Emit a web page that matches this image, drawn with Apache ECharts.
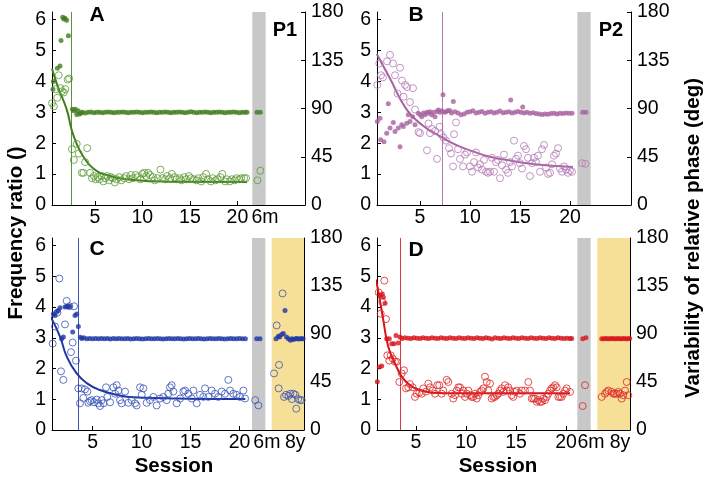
<!DOCTYPE html>
<html>
<head>
<meta charset="utf-8">
<script src="https://cdn.jsdelivr.net/npm/echarts@6.0.0/dist/echarts.min.js"></script>
<style>
  html, body { margin: 0; padding: 0; background: #fff; }
  #chart { width: 708px; height: 478px; }
</style>
</head>
<body>
<div id="chart"></div>
<script>
// ---- data: [session, frequency ratio] (filled), [session, deg] (open / fit) ----
const freqA = [[0.6,3.75],[0.64,4.0],[1.06,4.43],[1.34,4.5],[1.45,5.33],[1.63,6.08],[1.75,6.02],[1.87,6.05],[2.04,5.98],[2.22,5.48],
  [2.65,3.1],[2.8,3.05],[2.95,3.1],[3.1,2.93],[3.25,3.05],[3.4,2.95],[3.55,2.98],[3.7,3.0],[4.0,2.98],[4.3,3.0],[4.6,3.01],[4.9,2.99],
  [5.2,3.0],[5.5,3.0],[5.8,2.99],[6.1,3.0],[6.4,3.01],[6.7,3.0],[7.0,2.99],[7.3,3.0],[7.6,3.0],[7.9,3.01],[8.2,3.0],[8.5,2.99],[8.8,3.0],
  [9.1,3.0],[9.4,3.01],[9.7,3.0],[10.0,2.99],[10.3,3.0],[10.6,3.0],[10.9,3.01],[11.2,3.0],[11.5,2.99],[11.8,3.0],[12.1,3.0],[12.4,3.01],
  [12.7,3.0],[13.0,2.99],[13.3,3.0],[13.6,3.0],[13.9,3.01],[14.2,3.0],[14.5,2.99],[14.8,3.0],[15.1,3.02],[15.4,3.0],[15.7,2.99],[16.0,3.0],
  [16.3,3.0],[16.6,3.01],[16.9,3.0],[17.2,2.99],[17.5,3.0],[17.8,3.0],[18.1,3.01],[18.4,3.0],[18.7,2.99],[19.0,3.0],[19.3,3.0],[19.6,3.01],
  [19.9,3.0],[20.2,2.99],[20.5,3.0],[20.8,3.0],[21.0,3.0]];
const varA = [[0.5,95],[0.7,92],[0.85,108],[1.05,100],[1.2,121],[1.4,109],[1.55,106],[1.75,105],[1.9,108],[2.15,117],[2.3,118],
  [2.6,52],[2.8,42],[3.1,57],[3.3,48],[3.63,30],[3.8,30],[3.98,40],[4.2,53],
  [4.5,30],[4.7,25],[4.9,27],[5.1,24],[5.3,26],[5.5,24],[5.7,27],[5.9,22],[6.1,25],[6.3,27],[6.5,23],[6.7,26],[6.9,25],[7.1,21],[7.3,24],
  [7.6,26],[7.8,23],[8.1,25],[8.3,27],[8.6,24],[8.8,28],[9.0,25],[9.3,28],[9.5,26],[9.8,24],[10.0,29],[10.2,30],[10.4,27],[10.6,30],
  [10.8,28],[11.1,26],[11.3,23],[11.6,25],[11.9,33],[12.1,25],[12.4,24],[12.6,27],[12.9,25],[13.1,29],[13.4,26],[13.6,24],[13.9,25],
  [14.1,23],[14.4,26],[14.6,24],[14.9,27],[15.1,25],[15.4,24],[15.7,23],[15.9,25],[16.2,22],[16.4,26],[16.7,29],[16.9,24],[17.2,22],
  [17.4,25],[17.7,23],[17.9,24],[18.2,26],[18.4,29],[18.7,22],[18.9,24],[19.2,22],[19.4,24],[19.7,23],[19.9,25],[20.2,24],[20.4,25],
  [20.7,25],[20.9,25]];
const fitA = [[0.5,127],[1.17,109],[2.05,89],[2.57,70],[3.1,57],[3.8,45],[4.85,34],[6.26,28],[9.1,23.3],[12.6,21.8],[21,21.5]];
const freqLaterA = [[22.05,3.0],[22.4,3.0]];
const varLaterA = [[22.1,23],[22.4,32]];

const freqB = [[0.73,2.7],[1.0,2.81],[1.07,2.11],[1.4,2.05],[1.67,2.32],[1.83,3.28],[2.0,2.49],[2.33,2.67],[2.5,2.38],[2.83,2.49],
  [3.0,1.89],[3.17,2.6],[3.33,2.54],[3.67,2.65],[3.83,2.92],[4.0,2.7],[4.27,2.86],[4.5,2.6],[4.83,2.97],[5.0,2.93],[5.17,2.86],[5.35,2.98],
  [5.5,2.92],[5.7,3.0],[5.83,2.97],[6.0,3.02],[6.17,2.92],[6.35,3.0],[6.5,2.86],[6.7,3.03],[6.83,3.08],[7.0,3.0],[7.17,3.05],[7.3,3.57],
  [7.45,3.0],[7.6,3.02],[7.8,3.06],[8.0,3.05],[8.15,2.98],[8.33,3.35],[8.5,3.02],[8.8,2.98],[9.1,2.92],[9.4,2.95],[9.7,3.0],[10.0,3.02],
  [10.3,3.05],[10.6,2.98],[10.9,3.0],[11.2,3.03],[11.5,2.97],[11.8,3.0],[12.1,3.02],[12.4,2.98],[12.7,3.0],[13.0,3.04],[13.3,2.99],
  [13.6,3.0],[13.9,3.02],[14.07,3.4],[14.2,2.98],[14.5,3.0],[14.8,3.03],[15.1,3.0],[15.27,3.17],[15.4,2.98],[15.7,3.0],[16.0,2.97],
  [16.3,2.99],[16.6,2.96],[16.9,2.95],[17.2,2.93],[17.5,2.95],[17.8,2.94],[18.1,2.96],[18.4,2.97],[18.7,2.95],[19.0,2.97],[19.3,2.96],
  [19.6,2.98],[19.9,2.97],[20.2,2.97]];
const varB = [[0.73,112],[0.93,132],[1.1,121],[1.3,119],[1.7,134],[2.0,140],[2.3,132],[2.5,121],[2.75,104],[3.0,128],[3.2,116],
  [3.35,101],[3.5,112],[3.7,110],[4.0,96],[4.3,109],[4.5,89],[4.85,68],[5.0,67],[5.7,51],[5.85,76],[6.0,67],[6.2,71],[6.5,69],[6.7,43],
  [6.95,73],[7.1,66],[7.35,63],[7.6,60],[7.9,53],[8.1,48],[8.3,36],[8.4,66],[8.6,77],[8.8,52],[9.0,43],[9.3,36],[9.5,47],[9.7,49],
  [10.0,36],[10.2,31],[10.4,40],[10.6,49],[10.8,35],[11.0,38],[11.2,33],[11.4,42],[11.6,31],[11.8,30],[12.0,31],[12.2,44],[12.4,31],
  [12.6,40],[12.8,42],[13.0,25],[13.2,37],[13.4,47],[13.6,33],[13.8,30],[14.0,40],[14.2,36],[14.4,60],[14.6,43],[14.8,46],[15.0,39],
  [15.2,34],[15.4,55],[15.6,52],[15.8,44],[16.0,27],[16.2,39],[16.4,44],[16.6,40],[16.8,46],[17.0,31],[17.2,52],[17.4,56],[17.6,35],
  [17.8,29],[18.0,30],[18.2,38],[18.4,46],[18.6,48],[18.8,53],[19.0,34],[19.2,31],[19.4,36],[19.6,33],[19.8,30],[20.0,32],[20.2,31]];
const fitB = [[0.67,141],[2.0,118],[3.67,89],[5.3,74],[7.0,64],[8.6,56],[10.3,50],[12,45],[13.7,42],[15.3,39.5],[17,37.5],[18.7,36.3],[20.3,35.5]];
const freqLaterB = [[21.27,3.0],[21.6,3.0]];
const varLaterB = [[21.2,39],[21.55,38.5]];

const freqC = [[0.82,3.62],[0.99,3.78],[1.16,3.73],[1.33,3.84],[1.5,3.89],[1.67,3.98],[1.84,2.97],[2.01,3.03],[2.18,4.0],[2.35,4.02],
  [2.52,4.02],[2.69,4.02],[2.96,3.19],[3.2,3.73],[3.37,3.78],[3.54,3.37],
  [3.75,3.02],[3.9,2.98],[4.1,3.0],[4.4,2.97],[4.7,2.98],[5.0,2.97],[5.3,2.98],[5.6,2.97],[5.9,2.98],[6.2,2.97],[6.5,2.98],[6.8,2.96],
  [7.1,2.98],[7.4,2.97],[7.7,2.98],[8.0,2.97],[8.3,2.97],[8.6,2.98],[8.9,2.96],[9.2,2.97],[9.5,2.98],[9.8,2.97],[10.1,2.96],[10.4,2.97],
  [10.7,2.98],[11.0,2.97],[11.3,2.97],[11.6,2.98],[11.9,2.97],[12.2,2.96],[12.5,2.97],[12.8,2.98],[13.1,2.97],[13.4,2.97],[13.7,2.98],
  [14.0,2.97],[14.3,2.96],[14.6,2.97],[14.9,2.98],[15.2,2.97],[15.5,2.97],[15.8,2.98],[16.1,2.97],[16.4,2.96],[16.7,2.97],[17.0,2.98],
  [17.3,2.97],[17.6,2.97],[17.9,2.98],[18.2,2.97],[18.5,2.96],[18.8,2.97],[19.1,2.98],[19.4,2.97],[19.7,2.97],[20.0,2.98],[20.3,2.97],
  [20.6,2.97]];
const varC = [[0.65,75],[0.92,81],[1.16,97],[1.4,110],[1.6,142],[1.77,55],[2.01,47],[2.18,99],[2.35,121],[2.62,116],[2.79,73],[2.96,82],
  [3.1,116],[3.3,65],[3.54,39],[3.71,25],[3.88,39],[4.05,30],[4.22,38],[4.46,36],[4.56,25.5],[4.73,27],[4.9,28],[5.14,26],[5.41,28.5],
  [5.58,25],[5.75,22.5],[5.92,28],[6.1,25],[6.37,40],[6.5,31],[6.78,26],[7.12,40],[7.29,34],[7.46,42],[7.63,37],[7.8,28],[7.97,25],
  [8.31,36],[8.65,25.5],[8.99,28],[9.33,25],[9.5,23],[9.84,40],[10.01,33],[10.18,39],[10.52,25.5],[10.86,28],[11.2,31],[11.54,23],
  [11.88,29.5],[12.22,31],[12.56,28],[12.73,34],[12.9,40],[13.07,42],[13.24,36],[13.59,25],[13.93,29.5],[14.27,36],[14.44,37],[14.78,34],
  [15.12,29.5],[15.29,37],[15.63,25],[15.97,33],[16.31,31],[16.48,39],[16.82,31],[17.16,37],[17.5,34],[17.84,31],[18.18,36],[18.52,34],
  [18.86,47],[19.03,37],[19.37,34],[19.71,33],[20.05,31],[20.4,37],[20.57,29.5]];
const fitC = [[0.72,106],[1.67,87.5],[2.35,69],[3.37,53],[4.39,44],[5.75,37.5],[7.46,33],[9.16,30.6],[12.56,29.7],[15.97,29.1],[20.6,29]];
const freqLaterC = [[21.76,2.97],[22.1,2.97],
  [23.73,2.97],[23.97,3.05],[24.1,3.03],[24.3,3.11],[24.48,3.14],[24.65,3.89],[24.8,3.03],[25.0,2.97],[25.2,2.92],[25.35,2.97],
  [25.5,2.95],[25.7,2.97],[25.85,2.98],[26.0,2.96],[26.2,2.97],[26.35,2.97],[26.5,2.97]];
const varLaterC = [[21.6,28],[21.93,23],
  [23.53,53],[23.8,98],[24.04,61],[24.0,39],[24.4,128],[24.55,31],[24.75,33],[25.0,32],[25.2,34],[25.35,29],[25.5,34],[25.7,33],
  [25.8,20],[26.0,29],[26.2,28],[26.35,28]];

const freqD = [[1.13,1.57],[1.33,2.05],[1.4,4.38],[1.57,2.08],[1.63,4.43],[1.73,4.32],[1.9,4.13],[2.07,2.97],[2.33,2.97],[2.57,2.81],
  [2.8,2.81],[3.0,3.08],[3.23,2.83],[3.4,3.03],
  [3.6,2.98],[3.9,3.0],[4.2,2.99],[4.5,2.98],[4.8,3.0],[5.1,2.99],[5.4,2.98],[5.7,3.0],[6.0,2.99],[6.3,2.98],[6.6,3.0],[6.9,2.99],
  [7.2,2.98],[7.5,3.0],[7.8,2.99],[8.1,2.98],[8.4,3.0],[8.7,2.99],[9.0,2.98],[9.3,3.0],[9.6,2.99],[9.9,2.98],[10.2,3.0],[10.5,2.99],
  [10.8,2.98],[11.1,3.0],[11.4,2.99],[11.7,2.98],[12.0,3.0],[12.3,2.99],[12.6,2.96],[12.9,3.0],[13.2,2.99],[13.5,2.98],[13.8,3.0],
  [14.1,2.99],[14.4,2.98],[14.7,3.0],[15.0,2.99],[15.3,2.98],[15.6,3.0],[15.9,2.99],[16.2,2.98],[16.5,3.0],[16.8,2.99],[17.1,2.98],
  [17.4,3.0],[17.7,2.99],[18.0,2.98],[18.3,3.0],[18.6,2.99],[18.9,2.98],[19.2,3.0],[19.5,2.99],[19.8,2.98],[20.1,2.99],[20.4,2.98],
  [20.57,2.98]];
const varD = [[1.07,121],[1.27,129],[1.47,109],[1.63,120],[1.83,140],[2.0,104],[2.13,70],[2.33,65],[2.47,70],[2.67,67],[2.9,64],[3.07,64],
  [3.33,45],[3.57,53],[3.8,56],[4.0,39],[4.23,40],[4.4,43],[4.67,40],[4.9,31],[5.07,34],[5.33,35],[5.57,34],[5.73,39],[6.0,36],
  [6.23,43.5],[6.4,40],[6.67,37],[6.9,34],[7.13,42],[7.33,42],[7.57,34],[7.73,37],[8.07,47],[8.23,45],[8.57,34],[8.73,29.5],[8.9,32.6],
  [9.07,37],[9.23,40],[9.4,40],[9.57,34],[9.73,37],[9.9,31],[10.07,34],[10.23,37],[10.4,32.6],[10.57,31],[10.73,31],[10.9,34],
  [11.07,29.5],[11.23,32.6],[11.4,35.7],[11.57,37],[11.73,39],[11.9,50],[12.07,45],[12.23,37],[12.4,43.5],[12.57,29.5],[12.73,31],
  [12.9,31],[13.07,32.6],[13.23,34],[13.4,37],[13.57,39],[13.73,35.7],[13.9,42],[14.07,37],[14.23,40],[14.4,37],[14.57,32.6],[14.73,31],
  [14.9,35.7],[15.07,37],[15.4,34],[15.57,37],[15.9,37],[16.23,45],[16.4,37],[16.57,29.5],[16.73,29.5],[16.9,29.5],[17.07,26.4],
  [17.23,28],[17.4,26.4],[17.57,26.4],[17.73,29.5],[17.9,28],[18.07,31],[18.23,34],[18.4,37],[18.57,39],[18.73,40],[18.9,42],[19.07,40],
  [19.23,31],[19.4,31],[19.57,31],[19.73,34],[19.9,37],[20.07,39],[20.4,35.7]];
const fitD = [[1.0,141],[1.33,125],[1.73,103],[2.23,78],[2.9,62.5],[3.57,50],[4.4,42],[5.4,37.5],[6.73,35],[9.07,34.4],[20.4,34.4]];
const freqLaterD = [[21.67,2.97],[22.0,3.0],
  [23.57,2.97],[23.77,2.97],[23.97,2.98],[24.17,2.97],[24.37,2.97],[24.57,2.98],[24.77,2.97],[24.97,2.97],[25.17,2.98],[25.37,2.97],
  [25.57,2.97],[25.77,2.98],[25.97,2.97],[26.17,2.97],[26.37,2.98]];
const varLaterD = [[21.67,22.5],[21.9,42],
  [23.57,31],[23.9,34],[24.07,35.7],[24.23,37],[24.57,35.7],[24.73,34],[24.9,34],[25.07,34],[25.23,35.7],[25.4,34],[25.57,29.5],
  [25.73,32.6],[25.9,37],[26.07,45],[26.23,32.6]];

// session at which the criterion line is drawn
const criterionA = 2.57, criterionB = 7.27, criterionC = 3.54, criterionD = 3.47;
// follow-up bands [from, to] in sessions
const sixMonthA = [21.56, 22.96], sixMonthB = [20.73, 22.07], sixMonthC = [21.28, 22.64], sixMonthD = [21.13, 22.47];
const eightYearC = [23.29, 26.59], eightYearD = [23.13, 26.4];
// x tick labels
const sessionTicks = [5, 10, 15, 20];
const tagsA = [[22.9, '6m']], tagsB = [[22.1, '6m']], tagsC = [[22.8, '6m'], [25.7, '8y']], tagsD = [[22.5, '6m'], [25.4, '8y']];
const freqTicks = [0, 1, 2, 3, 4, 5, 6];
const phaseTicks = [0, 45, 90, 135, 180];

const FONT = '"Liberation Sans", Arial, Helvetica, sans-serif';

const panels = [
  { grid: { left: 52, top: 12, width: 253, height: 193 }, xMin: 0.5, xMax: 27.1, color: '#427d1e', open: '#5c9a35',
    freq: freqA.concat(freqLaterA), vari: varA.concat(varLaterA), fit: fitA, crit: criterionA,
    bands: [sixMonthA], yellow: null, tags: tagsA, letter: 'A', person: 'P1', lx: 97, ly: 15, px: 285, py: 30 },
  { grid: { left: 377, top: 12, width: 254, height: 193 }, xMin: 0.7, xMax: 26.1, color: '#a8629f', open: '#b47bb4',
    freq: freqB.concat(freqLaterB), vari: varB.concat(varLaterB), fit: fitB, crit: criterionB,
    bands: [sixMonthB], yellow: null, tags: tagsB, letter: 'B', person: 'P2', lx: 416, ly: 15, px: 611, py: 30 },
  { grid: { left: 52, top: 238, width: 252, height: 192 }, xMin: 0.85, xMax: 26.59, color: '#1f37a6', open: '#3a54b6',
    freq: freqC.concat(freqLaterC), vari: varC.concat(varLaterC), fit: fitC, crit: criterionC,
    bands: [sixMonthC], yellow: eightYearC, tags: tagsC, letter: 'C', person: 'P3', lx: 97, ly: 249, px: 286, py: 253 },
  { grid: { left: 377, top: 238, width: 253, height: 192 }, xMin: 1.1, xMax: 26.4, color: '#d8141b', open: '#dd2626',
    freq: freqD.concat(freqLaterD), vari: varD.concat(varLaterD), fit: fitD, crit: criterionD,
    bands: [sixMonthD], yellow: eightYearD, tags: tagsD, letter: 'D', person: 'P4', lx: 416, ly: 250, px: 611, py: 253 },
];

const axisBase = {
  axisLine: { show: true, lineStyle: { color: '#000', width: 1 } },
  axisTick: { show: true, inside: true, length: 4, lineStyle: { color: '#000' } },
  splitLine: { show: false },
  axisLabel: { color: '#000', fontSize: 19.5, fontFamily: FONT },
};

const grids = [], xAxes = [], yAxes = [], series = [], graphics = [];

panels.forEach((p, i) => {
  grids.push(p.grid);
  const tagVals = p.tags.map(t => t[0]);
  xAxes.push({
    ...axisBase, type: 'value', gridIndex: i, min: p.xMin, max: p.xMax,
    axisTick: { ...axisBase.axisTick, customValues: sessionTicks },
    axisLabel: { ...axisBase.axisLabel, margin: 3, customValues: sessionTicks.concat(tagVals),
      formatter: v => { const t = p.tags.find(d => Math.abs(d[0] - v) < 1e-6); return t ? t[1] : String(v); } },
  });
  yAxes.push({
    ...axisBase, type: 'value', gridIndex: i, position: 'left', min: 0, max: 6.25,
    axisTick: { ...axisBase.axisTick, customValues: freqTicks },
    axisLabel: { ...axisBase.axisLabel, margin: 6, customValues: freqTicks },
  });
  yAxes.push({
    ...axisBase, type: 'value', gridIndex: i, position: 'right', min: 0, max: 180,
    axisTick: { ...axisBase.axisTick, customValues: phaseTicks },
    axisLabel: { ...axisBase.axisLabel, margin: 6, customValues: phaseTicks },
  });

  const areas = p.bands.map(b => [{ xAxis: b[0], itemStyle: { color: '#c8c8c8' } }, { xAxis: b[1] }]);
  if (p.yellow) areas.push([{ xAxis: p.yellow[0], itemStyle: { color: '#f6df97' } }, { xAxis: p.yellow[1] }]);

  // fitted exponential (right axis) + bands + criterion line
  series.push({
    type: 'line', xAxisIndex: i, yAxisIndex: 2 * i + 1, data: p.fit, smooth: 0.5, showSymbol: false,
    lineStyle: { color: p.color, width: 2 }, z: 3, silent: true,
    markArea: { silent: true, data: areas },
    markLine: { silent: true, symbol: 'none', label: { show: false },
      lineStyle: { color: p.color, width: 1, type: 'solid', opacity: 0.85 }, data: [{ xAxis: p.crit }] },
  });
  // variability of relative phase (open circles, right axis)
  series.push({
    type: 'scatter', xAxisIndex: i, yAxisIndex: 2 * i + 1, data: p.vari, symbol: 'circle', symbolSize: 7,
    itemStyle: { color: 'rgba(0,0,0,0)', borderColor: p.open, borderWidth: 1 }, z: 4, silent: true,
  });
  // frequency ratio (filled dots, left axis)
  series.push({
    type: 'scatter', xAxisIndex: i, yAxisIndex: 2 * i, data: p.freq, symbol: 'circle', symbolSize: 5,
    itemStyle: { color: p.color }, z: 5, silent: true,
  });

  graphics.push({ type: 'text', x: p.lx, y: p.ly, style: { text: p.letter, font: 'bold 21px ' + FONT, fill: '#000', align: 'center', verticalAlign: 'middle' } });
  graphics.push({ type: 'text', x: p.px, y: p.py, style: { text: p.person, font: 'bold 20px ' + FONT, fill: '#000', align: 'center', verticalAlign: 'middle' } });
});

graphics.push({ type: 'text', x: 16, y: 233, rotation: Math.PI / 2,
  style: { text: 'Frequency ratio ()', font: 'bold 20.5px ' + FONT, fill: '#000', align: 'center', verticalAlign: 'middle' } });
graphics.push({ type: 'text', x: 693, y: 238, rotation: Math.PI / 2,
  style: { text: 'Variability of relative phase (deg)', font: 'bold 20.5px ' + FONT, fill: '#000', align: 'center', verticalAlign: 'middle' } });
graphics.push({ type: 'text', x: 174, y: 466, style: { text: 'Session', font: 'bold 20.5px ' + FONT, fill: '#000', align: 'center', verticalAlign: 'middle' } });
graphics.push({ type: 'text', x: 498, y: 466, style: { text: 'Session', font: 'bold 20.5px ' + FONT, fill: '#000', align: 'center', verticalAlign: 'middle' } });

const chart = echarts.init(document.getElementById('chart'), null, { renderer: 'canvas' });
chart.setOption({
  animation: false,
  backgroundColor: '#fff',
  grid: grids,
  xAxis: xAxes,
  yAxis: yAxes,
  series: series,
  graphic: graphics,
});
</script>
</body>
</html>
